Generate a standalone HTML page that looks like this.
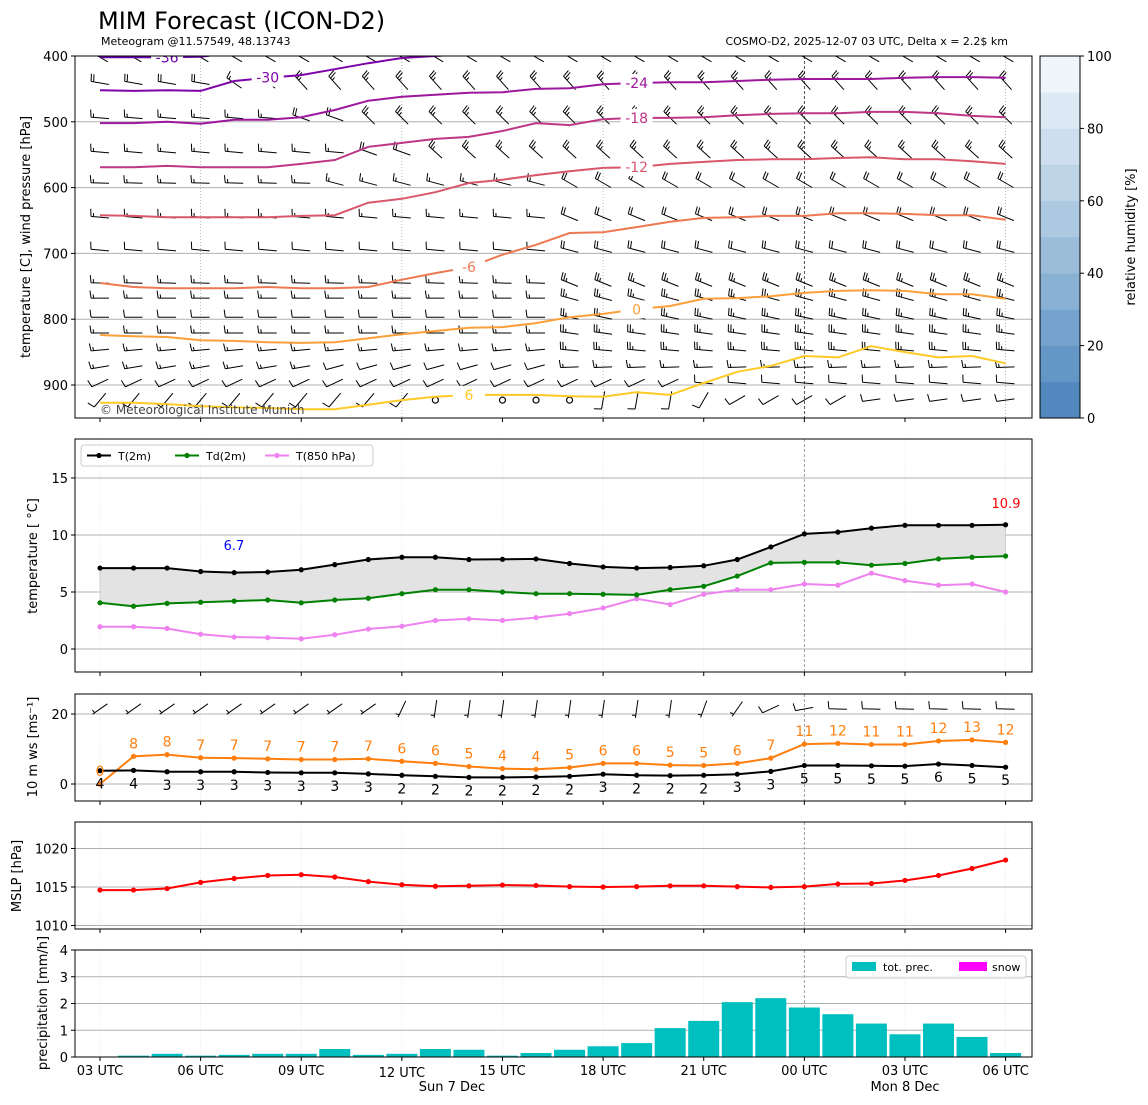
<!DOCTYPE html>
<html><head><meta charset="utf-8"><style>
html,body{margin:0;padding:0;background:#fff;}
svg{display:block;font-family:"DejaVu Sans","Liberation Sans",sans-serif;}
</style></head><body>
<svg id="chart" width="1148" height="1105" viewBox="0 0 1148 1105" xmlns="http://www.w3.org/2000/svg">
<defs><clipPath id="clip1"><rect x="75" y="56" width="957" height="362"/></clipPath></defs>
<text x="98" y="29" font-size="24" fill="#000">MIM Forecast (ICON-D2)</text>
<text x="101" y="45" font-size="11" fill="#000">Meteogram @11.57549, 48.13743</text>
<text x="1008" y="45" font-size="11" fill="#000" text-anchor="end">COSMO-D2, 2025-12-07 03 UTC, Delta x = 2.2$ km</text>
</svg>
<script>
// ===== data =====
const timeLabels = ["03 UTC","06 UTC","09 UTC","12 UTC","15 UTC","18 UTC","21 UTC","00 UTC","03 UTC","06 UTC"];
const tickHours = [0,3,6,9,12,15,18,21,24,27];
const hours = [0,1,2,3,4,5,6,7,8,9,10,11,12,13,14,15,16,17,18,19,20,21,22,23,24,25,26,27];
// isotherms (pressure in hPa at each hour)
const isoValues = [-36,-30,-24,-18,-12,-6,0,6];
const isoColors = ["#6a00a8","#7e03a8","#9c179e","#bd3786","#d8576b","#ed7953","#fb9f3a","#fdca26"];
const isoM36 = [402,402,402,401,395,390,385,382,380,380,380,380,380,380,380,380,380,380,380,380,380,380,380,380,380,380,380,380];
const isoM30 = [452,453,452,453,438,433,429,420,411,403,400,397,394,391,390,388,386,385,384,383,382,381,380,380,379,379,379,379];
const isoM24 = [502,502,500,503,497,497,493,482,468,462,459,456,455,450,449,443,441,440,440,438,436,435,435,435,433,432,432,433];
const isoM18 = [569,569,567,569,569,569,564,558,538,532,526,523,514,502,505,496,494,494,493,490,488,487,487,485,485,487,491,493];
const isoM12 = [642,643,645,645,645,645,643,642,623,617,607,593,588,581,575,570,569,564,561,558,557,557,555,554,557,557,560,564];
const isoM6 = [745,751,753,753,753,751,753,753,751,740,730,721,702,687,669,668,660,652,646,645,643,643,639,639,640,642,642,649];
const iso0 = [824,826,827,832,833,835,836,835,829,823,818,813,812,806,797,792,785,780,769,768,765,760,757,756,757,762,762,769];
const iso6 = [927,927,929,932,934,935,937,937,930,923,918,915,915,915,917,918,911,915,897,880,871,856,858,841,850,858,856,867];
const isoLines = [isoM36,isoM30,isoM24,isoM18,isoM12,isoM6,iso0,iso6];
// label placements: [line index, hour position]
const isoLabelAt = [[0,2],[1,5],[2,16],[3,16],[4,16],[5,11],[6,16],[7,11]];
// wind barb levels (hPa) and run-length rows [count, dir deg, speed kt]
const barbLevels = [402,441,494,546,593,645,695,745,768,797,821,847,873,897,923];
const barbRows = [
 [[28,300,25]],
 [[4,280,20],[2,305,15],[22,318,25]],
 [[6,275,15],[2,290,20],[20,315,25]],
 [[8,275,15],[2,290,20],[18,312,25]],
 [[7,272,15],[7,285,15],[14,300,20]],
 [[14,275,15],[14,292,20]],
 [[14,275,10],[14,285,20]],
 [[14,272,15],[14,292,25]],
 [[14,270,15],[14,285,25]],
 [[14,270,10],[14,282,25]],
 [[14,270,15],[14,278,25]],
 [[14,265,15],[14,275,25]],
 [[7,260,15],[7,255,10],[14,268,15]],
 [[18,245,10],[10,275,10]],
 [[10,220,10],[5,0,0],[3,190,10],[1,210,10],[4,240,10],[5,262,10]]
];
// surface 10 m barbs
const sfcBarbs = [[9,235,5],[1,205,5],[8,188,5],[1,200,5],[1,215,5],[1,245,10],[1,260,10],[6,272,10]];
// panel 2
const t2m = [7.1,7.1,7.1,6.8,6.7,6.75,6.95,7.4,7.85,8.05,8.05,7.85,7.87,7.9,7.5,7.2,7.1,7.15,7.3,7.85,8.95,10.1,10.25,10.6,10.85,10.85,10.85,10.9];
const td2m = [4.05,3.75,4.0,4.1,4.2,4.3,4.05,4.3,4.45,4.85,5.2,5.2,5.0,4.85,4.85,4.8,4.75,5.2,5.5,6.4,7.55,7.6,7.6,7.35,7.5,7.9,8.05,8.15];
const t850 = [1.95,1.95,1.8,1.3,1.05,1.0,0.9,1.25,1.75,2.0,2.5,2.65,2.5,2.75,3.1,3.6,4.4,3.9,4.8,5.2,5.2,5.7,5.6,6.65,6.0,5.6,5.7,5.0];
const tTicks = [0,5,10,15];
// panel 3
const gust = [0.0,7.9,8.4,7.5,7.4,7.2,7.0,7.0,7.2,6.5,5.9,5.0,4.4,4.2,4.7,5.9,5.9,5.4,5.3,5.9,7.4,11.4,11.6,11.3,11.3,12.3,12.6,11.9];
const gustLabels = [0,8,8,7,7,7,7,7,7,6,6,5,4,4,5,6,6,5,5,6,7,11,12,11,11,12,13,12];
const wspd = [3.8,3.9,3.5,3.5,3.5,3.3,3.2,3.2,2.9,2.5,2.2,1.9,1.9,2.0,2.2,2.8,2.5,2.4,2.5,2.8,3.6,5.3,5.3,5.2,5.1,5.7,5.3,4.8];
const wspdLabels = [4,4,3,3,3,3,3,3,3,2,2,2,2,2,2,3,2,2,2,3,3,5,5,5,5,6,5,5];
const wTicks = [0,20];
// panel 4
const mslp = [1014.6,1014.6,1014.8,1015.6,1016.1,1016.5,1016.6,1016.3,1015.7,1015.3,1015.1,1015.15,1015.25,1015.2,1015.05,1015.0,1015.05,1015.15,1015.15,1015.05,1014.95,1015.05,1015.4,1015.45,1015.85,1016.5,1017.4,1018.5];
const pTicks = [1010,1015,1020];
// panel 5
const precip = [0,0.05,0.12,0.05,0.08,0.12,0.12,0.3,0.08,0.12,0.3,0.27,0.05,0.15,0.27,0.4,0.52,1.08,1.35,2.05,2.2,1.85,1.6,1.25,0.85,1.25,0.75,0.15];
const rTicks = [0,1,2,3,4];
const pressTicks = [400,500,600,700,800,900];
const rhTicks = [0,20,40,60,80,100];
const rhColors = ["#5288bd","#6496c6","#76a3cd","#89b1d4","#9bbdda","#adc9e1","#bdd4e7","#cddfee","#dde9f5","#eef5fb"];

// ===== helpers =====
const NS = "http://www.w3.org/2000/svg";
const svg = document.getElementById("chart");
function mk(tag, attrs, parent, name, inter) {
  const e = document.createElementNS(NS, tag);
  for (const k in attrs) e.setAttribute(k, attrs[k]);
  
  
  (parent || svg).appendChild(e);
  return e;
}
function txt(x, y, s, size, fill, anchor, name, extra) {
  const t = mk("text", Object.assign({x:x, y:y, "font-size":size, fill:fill, "text-anchor":anchor||"start"}, extra||{}), null, name, false);
  t.textContent = s;
  return t;
}
const X = h => 100 + h * 33.54;
const L = 75, R = 1032;
const panels = [
  {top:56, bot:418}, {top:439, bot:672}, {top:694, bot:801}, {top:822, bot:929}, {top:950, bot:1057}
];
const yP = p => 56 + (p - 400) * 0.658;
const yT = t => 649 - t * 11.4;
const yW = v => 784 - v * 3.5;
const yM = m => 887 - (m - 1015) * 7.7;
const yR = r => 1057 - r * 26.75;
const expand = rows => { const out = []; rows.forEach(r => { for (let k = 0; k < r[0]; k++) out.push([r[1], r[2]]); }); return out; };

function barb(cx, cy, dir, spd, parent) {
  if (spd < 5) {
    const c = mk("circle", {cx:cx, cy:cy, r:3, fill:"none", stroke:"#000", "stroke-width":1.2}, parent, "calm-wind-marker", false);
    return c;
  }
  const rad = dir * Math.PI / 180, Lb = 18;
  const tx = Math.sin(rad), ty = -Math.cos(rad);
  const kx = -ty, ky = tx;
  const x0 = cx - tx * Lb / 2, y0 = cy - ty * Lb / 2;
  const x1 = cx + tx * Lb / 2, y1 = cy + ty * Lb / 2;
  let d = `M${x0.toFixed(1)},${y0.toFixed(1)}L${x1.toFixed(1)},${y1.toFixed(1)}`;
  let full = Math.floor(spd / 10), half = (spd % 10) >= 5 ? 1 : 0;
  let pos = 0;
  for (let k = 0; k < full; k++) {
    const bx = x1 - tx * pos, by = y1 - ty * pos;
    d += `M${bx.toFixed(1)},${by.toFixed(1)}l${(kx*7.5+tx*1).toFixed(1)},${(ky*7.5+ty*1).toFixed(1)}`;
    pos += 2.6;
  }
  if (half) {
    if (full === 0) pos = 2.6;
    const bx = x1 - tx * pos, by = y1 - ty * pos;
    d += `M${bx.toFixed(1)},${by.toFixed(1)}l${(kx*3.7+tx*0.5).toFixed(1)},${(ky*3.7+ty*0.5).toFixed(1)}`;
  }
  return mk("path", {d:d, fill:"none", stroke:"#000", "stroke-width":1}, parent, "wind-barb", false);
}

// ===== vertical grid & background lines =====
panels.forEach((p, pi) => {
  tickHours.forEach(h => {
    const x = X(h);
    if (pi === 0) {
      if (h % 6 === 3 && h !== 21) mk("line", {x1:x, x2:x, y1:p.top, y2:p.bot, stroke:"#999", "stroke-width":0.7, "stroke-dasharray":"1,2"}, null, "time-gridline", false);
    } else if (h !== 21) {
      mk("line", {x1:x, x2:x, y1:p.top, y2:p.bot, stroke:"#e4e4e4", "stroke-width":0.8, "stroke-dasharray":"1,1.5"}, null, "time-gridline", false);
    }
  });
  mk("line", {x1:X(21), x2:X(21), y1:p.top, y2:p.bot, stroke:pi===0?"#222":"#888", "stroke-width":0.8, "stroke-dasharray":"3,2"}, null, "midnight-line", false);
});

// ===== panel 1 =====
pressTicks.forEach(p => {
  if (p > 400) mk("line", {x1:L, x2:R, y1:yP(p), y2:yP(p), stroke:"#b0b0b0", "stroke-width":1}, null, "pressure-gridline", false);
  mk("line", {x1:L-4, x2:L, y1:yP(p), y2:yP(p), stroke:"#000"}, null, "y-tick", false);
  txt(L-7, yP(p)+5, String(p), 13, "#000", "end", "pressure-tick-label");
});
const g1 = mk("g", {"clip-path":"url(#clip1)"}, null, "upper-air-plot", false);
barbRows.forEach((row, ri) => {
  const cells = expand(row);
  cells.forEach((c, hi) => barb(X(hours[hi]), yP(barbLevels[ri]), c[0], c[1], g1));
});
isoLines.forEach((line, li) => {
  const pts = line.map((p, i) => X(hours[i]).toFixed(1) + "," + yP(p).toFixed(1)).join(" ");
  mk("polyline", {points:pts, fill:"none", stroke:isoColors[li], "stroke-width":2}, g1, "isotherm-" + (isoValues[li] < 0 ? "m" + (-isoValues[li]) : isoValues[li]), false);
});
isoLabelAt.forEach(a => {
  const li = a[0], h = a[1];
  const x = X(h), y = yP(isoLines[li][h]);
  mk("rect", {x:x-16, y:y-9, width:32, height:18, fill:"#fff"}, g1, "isotherm-label-bg", false);
  const t = mk("text", {x:x, y:y+5, "font-size":14, fill:isoColors[li], "text-anchor":"middle"}, g1, "isotherm-label", false);
  t.textContent = String(isoValues[li]);
});
txt(100, 414, "© Meteorological Institute Munich", 12, "#444", "start", "copyright-note");
txt(0, 0, "temperature [C], wind pressure [hPa]", 13, "#000", "middle", "y-axis-title-upper", {transform:"translate(30,237) rotate(-90)"});

// colorbar
rhColors.forEach((c, k) => {
  const h = 362 / 10;
  mk("rect", {x:1040, y:418 - (k+1)*h, width:40, height:h+0.3, fill:c}, null, "humidity-colorbar-step", false);
});
mk("rect", {x:1040, y:56, width:40, height:362, fill:"none", stroke:"#000", "stroke-width":1}, null, "humidity-colorbar-frame", false);
rhTicks.forEach(v => {
  const y = 418 - v * 3.62;
  mk("line", {x1:1080, x2:1084, y1:y, y2:y, stroke:"#000"}, null, "colorbar-tick", false);
  txt(1087, y+5, String(v), 13, "#000", "start", "colorbar-tick-label");
});
txt(0, 0, "relative humidity [%]", 13, "#000", "middle", "colorbar-title", {transform:"translate(1135,237) rotate(-90)"});

// ===== panel 2 =====
tTicks.forEach(v => {
  mk("line", {x1:L, x2:R, y1:yT(v), y2:yT(v), stroke:"#b0b0b0", "stroke-width":1}, null, "temperature-gridline", false);
  mk("line", {x1:L-4, x2:L, y1:yT(v), y2:yT(v), stroke:"#000"}, null, "y-tick", false);
  txt(L-7, yT(v)+5, String(v), 13, "#000", "end", "temperature-tick-label");
});
{
  const up = t2m.map((v, i) => X(hours[i]).toFixed(1) + "," + yT(v).toFixed(1));
  const dn = td2m.map((v, i) => X(hours[i]).toFixed(1) + "," + yT(v).toFixed(1)).reverse();
  mk("polygon", {points:up.concat(dn).join(" "), fill:"#e3e3e3", stroke:"#c8c8c8", "stroke-width":0.8}, null, "dewpoint-spread-fill", false);
}
function series(arr, yf, color, name, r) {
  const pts = arr.map((v, i) => X(hours[i]).toFixed(1) + "," + yf(v).toFixed(1)).join(" ");
  mk("polyline", {points:pts, fill:"none", stroke:color, "stroke-width":2}, null, name + "-line", false);
  arr.forEach((v, i) => mk("circle", {cx:X(hours[i]), cy:yf(v), r:r||2.6, fill:color}, null, name + "-point", false));
}
series(t850, yT, "#ee82ee", "t850");
series(td2m, yT, "#008000", "td2m");
series(t2m, yT, "#000000", "t2m");
txt(234, 550, "6.7", 13, "#0000ff", "middle", "min-temperature-annotation");
txt(1006, 508, "10.9", 13, "#ff0000", "middle", "max-temperature-annotation");
{
  mk("rect", {x:81, y:445, width:292, height:21, rx:3, fill:"#fff", "fill-opacity":0.85, stroke:"#ccc"}, null, "temperature-legend", false);
  const ents = [["T(2m)","#000",87],["Td(2m)","#008000",175],["T(850 hPa)","#ee82ee",265]];
  ents.forEach(e => {
    mk("line", {x1:e[2], x2:e[2]+24, y1:455.5, y2:455.5, stroke:e[1], "stroke-width":2}, null, "legend-line", false);
    mk("circle", {cx:e[2]+12, cy:455.5, r:2.6, fill:e[1]}, null, "legend-marker", false);
    txt(e[2]+31, 460, e[0], 11, "#000", "start", "legend-entry");
  });
}
txt(0, 0, "temperature [ °C]", 13, "#000", "middle", "y-axis-title-temperature", {transform:"translate(37,556) rotate(-90)"});

// ===== panel 3 =====
wTicks.forEach(v => {
  mk("line", {x1:L, x2:R, y1:yW(v), y2:yW(v), stroke:"#b0b0b0", "stroke-width":1}, null, "wind-gridline", false);
  mk("line", {x1:L-4, x2:L, y1:yW(v), y2:yW(v), stroke:"#000"}, null, "y-tick", false);
  txt(L-7, yW(v)+5, String(v), 13, "#000", "end", "wind-tick-label");
});
expand(sfcBarbs).forEach((c, hi) => barb(X(hours[hi]), 709, c[0], c[1], null));
series(gust, yW, "#ff7f0e", "gust");
series(wspd, yW, "#000000", "wind-speed");
gust.forEach((v, i) => txt(X(hours[i]), yW(v) - 8, String(gustLabels[i]), 14, "#ff7f0e", "middle", "gust-value-label"));
wspd.forEach((v, i) => txt(X(hours[i]), yW(v) + 18, String(wspdLabels[i]), 14, "#000", "middle", "wind-value-label"));
txt(0, 0, "10 m ws [ms⁻¹]", 13, "#000", "middle", "y-axis-title-wind", {transform:"translate(37,747) rotate(-90)"});

// ===== panel 4 =====
pTicks.forEach(v => {
  mk("line", {x1:L, x2:R, y1:yM(v), y2:yM(v), stroke:"#b0b0b0", "stroke-width":1}, null, "mslp-gridline", false);
  mk("line", {x1:L-4, x2:L, y1:yM(v), y2:yM(v), stroke:"#000"}, null, "y-tick", false);
  txt(L-7, yM(v)+5, String(v), 13, "#000", "end", "mslp-tick-label");
});
series(mslp, yM, "#ff0000", "mslp");
txt(0, 0, "MSLP [hPa]", 13, "#000", "middle", "y-axis-title-mslp", {transform:"translate(21,876) rotate(-90)"});

// ===== panel 5 =====
rTicks.forEach(v => {
  if (v > 0 && v < 4) mk("line", {x1:L, x2:R, y1:yR(v), y2:yR(v), stroke:"#b0b0b0", "stroke-width":1}, null, "precip-gridline", false);
  mk("line", {x1:L-4, x2:L, y1:yR(v), y2:yR(v), stroke:"#000"}, null, "y-tick", false);
  txt(L-7, yR(v)+5, String(v), 13, "#000", "end", "precip-tick-label");
});
precip.forEach((v, i) => {
  if (v > 0) mk("rect", {x:X(hours[i]) - 15.5, y:yR(v), width:31, height:1057 - yR(v), fill:"#00bfbf"}, null, "precip-bar", false);
});
{
  mk("rect", {x:846, y:956, width:180, height:22, rx:3, fill:"#fff", "fill-opacity":0.85, stroke:"#ccc"}, null, "precip-legend", false);
  mk("rect", {x:852, y:962, width:24, height:9, fill:"#00bfbf"}, null, "legend-patch-total", false);
  txt(883, 971, "tot. prec.", 11, "#000", "start", "legend-entry");
  mk("rect", {x:959, y:962, width:28, height:9, fill:"#ff00ff"}, null, "legend-patch-snow", false);
  txt(992, 971, "snow", 11, "#000", "start", "legend-entry");
}
txt(0, 0, "precipitation [mm/h]", 13, "#000", "middle", "y-axis-title-precip", {transform:"translate(47,1003) rotate(-90)"});

// ===== frames, x ticks =====
panels.forEach(p => {
  mk("rect", {x:L, y:p.top, width:R-L, height:p.bot-p.top, fill:"none", stroke:"#000", "stroke-width":1}, null, "panel-frame", false);
  tickHours.forEach(h => mk("line", {x1:X(h), x2:X(h), y1:p.bot, y2:p.bot+4, stroke:"#000"}, null, "x-tick", false));
});
tickHours.forEach((h, k) => txt(X(h), h === 9 ? 1077 : 1075, timeLabels[k], 13, "#000", "middle", "x-tick-label"));
txt(452, 1091, "Sun 7 Dec", 13, "#000", "middle", "date-label-sun");
txt(905, 1091, "Mon 8 Dec", 13, "#000", "middle", "date-label-mon");
</script>
</body></html>
